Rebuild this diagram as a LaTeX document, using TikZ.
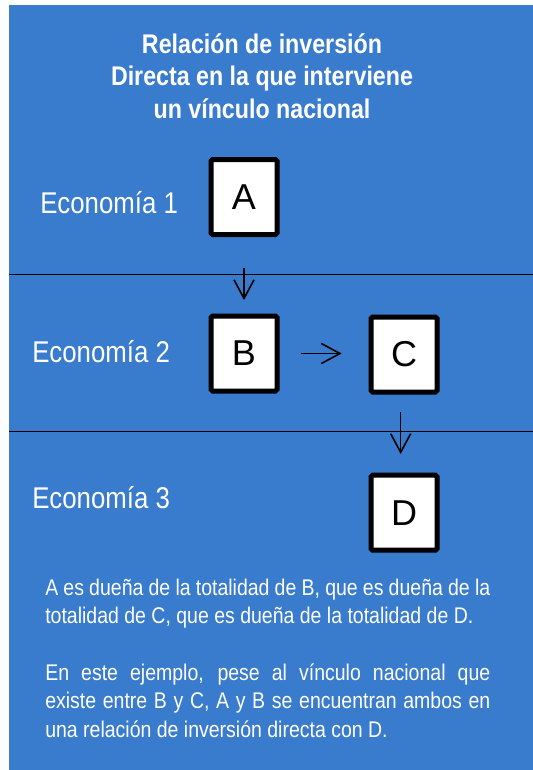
\documentclass[tikz,border=0pt]{standalone}
\usepackage{fontspec}
\setmainfont{Liberation Sans}[FakeStretch=0.86]
\newfontfamily\boxfont{Liberation Sans}
\usetikzlibrary{arrows.meta}
\definecolor{bgblue}{RGB}{57,123,204}
\begin{document}
\begin{tikzpicture}[x=0.75pt,y=-0.75pt,
  ebox/.style={draw=black, fill=white, line width=3.75pt, rounded corners=1.2pt,
    minimum width=49.5pt, minimum height=56.25pt, inner sep=0pt,
    font=\boxfont\fontsize{27pt}{30pt}\selectfont},
  arr/.style={line width=1.2pt, -{Straight Barb[length=14pt,width=15pt]}},
  sepline/.style={line width=1.3pt, black},
  eco/.style={text=white, font=\fontsize{22.5pt}{26pt}\selectfont, inner sep=0pt, anchor=base west}]
\useasboundingbox (0,0) rectangle (532,770);
\fill[white] (0,0) rectangle (540,775);
\fill[bgblue] (9,5) rectangle (540,775);
% separator lines
\coordinate (s1a) at (9,274.5);  \coordinate (s1b) at (540,274.5);
\coordinate (s2a) at (9,431.5);  \coordinate (s2b) at (540,431.5);
\draw[sepline] (s1a) -- (s1b);
\draw[sepline] (s2a) -- (s2b);
% title
\node[text=white, font=\bfseries\fontsize{20.25pt}{24.4pt}\selectfont, align=center, inner sep=0pt]
  (title) at (262,76) {Relación de inversión\\Directa en la que interviene\\un vínculo nacional};
% economy labels
\node[eco] (e1) at (40,213.5) {Economía 1};
\node[eco] (e2) at (32,362) {Economía 2};
\node[eco] (e3) at (32,508.5) {Economía 3};
% boxes
\node[ebox] (A) at (244,197) {A};
\node[ebox] (B) at (244,353.5) {B};
\node[ebox] (C) at (404,354.5) {C};
\node[ebox] (D) at (404,512.7) {D};
% arrows
\draw[arr, shorten <=23.25pt, shorten >=10pt] (A.south) -- (B.north);
\draw[arr, shorten <=15.9pt, shorten >=20.1pt] (B.east) -- (B.east -| C.west);
\draw[arr, shorten <=13.4pt, shorten >=14pt] ([xshift=-2.5pt]C.south) -- ([xshift=-2.5pt]D.north);
% text
\node[text=white, anchor=north west, inner sep=0pt, text width=333.75pt, align=justify,
  font=\fontsize{17pt}{21.2pt}\selectfont] (txt) at (45,579)
  {\hyphenpenalty=10000 \exhyphenpenalty=10000 \tolerance=10000
   A es dueña de la totalidad de B, que es dueña de la\linebreak
   totalidad de C, que es dueña de la totalidad de D.\\[21.2pt]
   En este ejemplo, pese al vínculo nacional que\linebreak
   existe entre B y C, A y B se encuentran ambos en\linebreak
   una relación de inversión directa con D.};
\end{tikzpicture}
\end{document}
